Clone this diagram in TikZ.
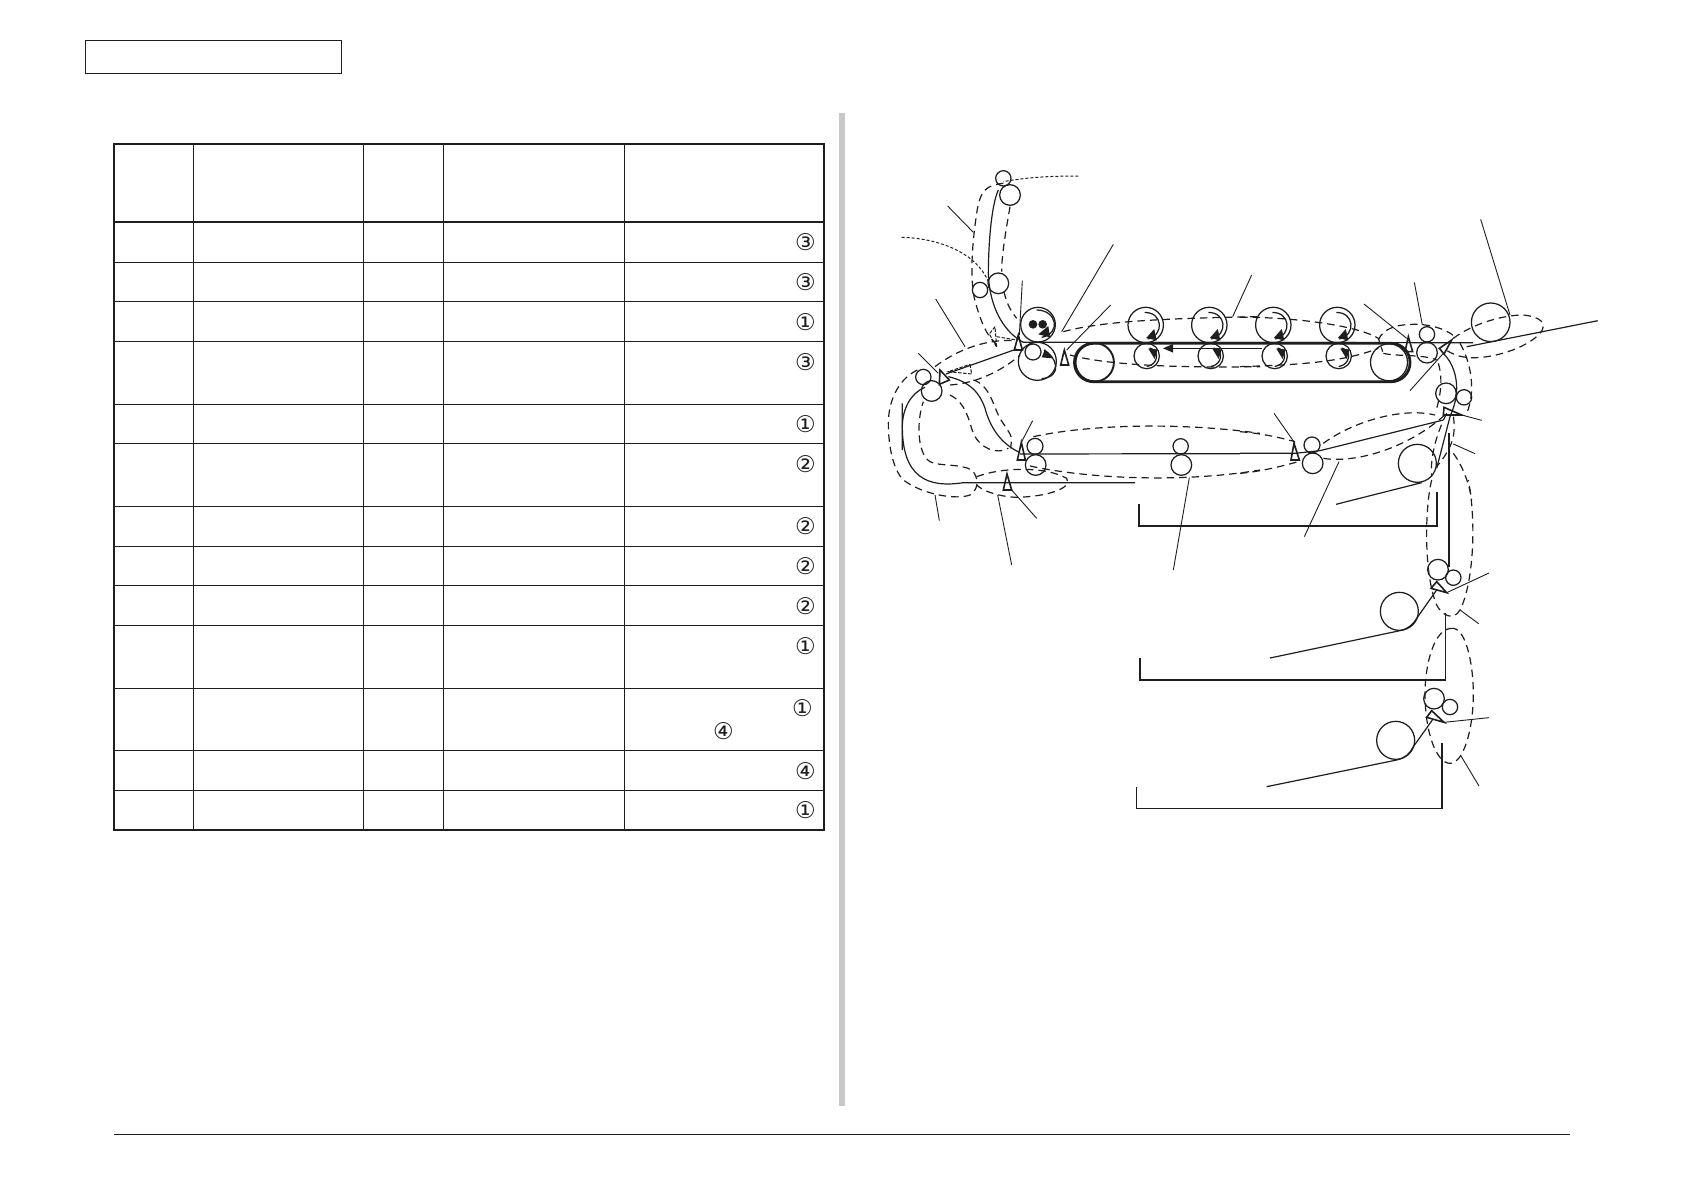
\documentclass[tikz,border=0pt]{standalone}
\usepackage{fontspec}
\newfontfamily\symfont{DejaVu Sans}
\definecolor{ink}{HTML}{1E1E1E}
\definecolor{barc}{HTML}{C8C8C8}
\tikzset{
  z1/.style={shift={(860,150)},scale=0.33333},
  z2/.style={shift={(1240,200)},scale=0.33333},
  z3/.style={shift={(860,380)},scale=0.33333},
  z4/.style={shift={(1240,480)},scale=0.33333},
  roller/.style={draw=ink,line width=1.25pt},
  paper/.style={draw=ink,line width=1.2pt},
  leader/.style={draw=ink,line width=0.9pt},
  loopline/.style={draw=ink,line width=1.2pt,dash pattern=on 7.5pt off 5pt},
  fineloop/.style={draw=ink,line width=1pt,dash pattern=on 3pt off 2pt},
  flagmark/.style={draw=ink,line width=1.6pt},
  sketchmark/.style={draw=ink,line width=1pt,dash pattern=on 3.5pt off 1.5pt},
  tabthick/.style={draw=ink,line width=2pt},
  tabthin/.style={draw=ink,line width=1.1pt},
  digit/.style={font=\symfont\fontsize{23}{23}\selectfont,text=ink,inner sep=0pt}
}
\newcommand{\upperroller}[1]{\begin{scope}[shift={(#1,325)}]
  \draw[roller] (0,0) circle (17.7);
  \draw[roller] (-1,-12.5) .. controls (17,-13) and (19,10) .. (2,14);
  \fill[ink] (8.5,4) -- (0.5,13) -- (11,15.5) -- cycle;
\end{scope}}
\newcommand{\lowerroller}[1]{\begin{scope}[shift={(#1,356)}]
  \draw[roller] (0,0) circle (12.7);
  \draw[roller] (3,-8) .. controls (14,-5) and (11,9) .. (0,10.5);
  \fill[ink] (1.5,-7.5) -- (11,-6.5) -- (8,3) -- cycle;
\end{scope}}
\begin{document}
\begin{tikzpicture}[x=1pt,y=-1pt]
\useasboundingbox[fill=white] (0,0) rectangle (1684,1191);
% header box, bar, footer
\draw[draw=ink,line width=1.1pt] (85.5,40.5) rectangle (341.5,73.5);
\fill[barc] (839,113) rectangle (845,1106);
\draw[draw=ink,line width=0.9pt] (114,1134) -- (1570,1134);
% table
\foreach \yy in {262.3,301.3,341.3,404.3,443.3,506.3,546.3,585.3,625.3,688.3,750.3,790.3}
  \draw[tabthin] (114,\yy) -- (823.5,\yy);
\foreach \xx in {193.6,363.6,443.2,624.6}
  \draw[tabthin] (\xx,143.7) -- (\xx,829.5);
\draw[tabthick] (114,221.7) -- (823.5,221.7);
\draw[tabthick] (114,143.7) rectangle (823.5,830);
% circled digits
\node[digit] (d1) at (805.5,242) {③};
\node[digit] (d2) at (805.5,282) {③};
\node[digit] (d3) at (805.5,321.7) {①};
\node[digit] (d4) at (805.5,361.7) {③};
\node[digit] (d5) at (805.5,424.5) {①};
\node[digit] (d6) at (805.5,463.7) {②};
\node[digit] (d7) at (805.5,526.3) {②};
\node[digit] (d8) at (805.5,566) {②};
\node[digit] (d9) at (805.5,605.7) {②};
\node[digit] (d10) at (805.5,645.7) {①};
\node[digit] (d11) at (802.5,708) {①};
\node[digit] (d12) at (723.5,731.5) {④};
\node[digit] (d13) at (805.5,770.7) {④};
\node[digit] (d14) at (805.5,810.3) {①};
% belt
\draw[draw=ink,line width=2.8pt,rounded corners=19pt] (1074.5,343.3) rectangle (1410,381.7);
\draw[draw=ink,line width=1.9pt] (1094.7,362.3) circle (19.2);
\draw[roller] (1389,362.3) circle (18.5);
\upperroller{1145.7}\upperroller{1209.3}\upperroller{1273.3}\upperroller{1337.3}
\lowerroller{1146.7}\lowerroller{1210.7}\lowerroller{1274.7}\lowerroller{1338.7}
\draw[paper] (1023,342.3) -- (1473,342.7);
\draw[paper] (1172,348.3) -- (1262,348.3);
\fill[ink] (1163,348.3) -- (1173,344) -- (1173,352.6) -- cycle;
\draw[paper] (1466.7,346.7) -- (1597.7,320.7);
\draw[roller] (1490.7,322.3) circle (19.3);
% --- region 1
\begin{scope}[z1]
\foreach \cx/\cy/\rr in {430/85/23,450/135/31,415/400/31,360/420/23,534/524/52,532/634/57,519/606/24,190/681/23,215/723/31}
  \draw[roller] (\cx,\cy) circle (\rr);
\fill[ink] (519,523) circle (13);
\fill[ink] (548,523) circle (13);
\draw[roller] (530,480) .. controls (590,480) and (605,550) .. (545,562);
\fill[ink] (565,528) -- (535,553) -- (570,562) -- cycle;
\draw[roller] (552,600) .. controls (590,620) and (610,680) .. (545,686);
\fill[ink] (555,598) -- (578,625) -- (545,622) -- cycle;
\draw[paper] (415,120) .. controls (392,170) and (385,300) .. (385,370) .. controls (388,470) and (430,545) .. (490,577);
\draw[paper] (258,672) -- (470,597);
\draw[paper] (195,712) .. controls (150,730) and (127,780) .. (127,830) -- (127,900);
\draw[paper] (265,680) .. controls (330,695) and (360,730) .. (375,775) .. controls (390,830) and (420,880) .. (480,908);
\foreach \pts in {{(613,600) -- (602,645) -- (626,645)},{(475,555) -- (463,600) -- (487,600)},{(240,660) -- (238,703) -- (268,690)}}
  \draw[flagmark] \pts -- cycle;
\foreach \pts in {{(405,530) -- (388,552) -- (410,592)},{(330,643) -- (335,672) -- (265,665)}}
  \draw[sketchmark] \pts -- cycle;
\draw[sketchmark] (410,560) -- (470,570);
\foreach \xa/\ya/\xb/\yb in {263/168/340/247,227/447/315/590,175/610/235/670,487/392/478/555,760/283/605/545,752/465/620/600,1175/375/1118/500}
  \draw[leader] (\xa,\ya) -- (\xb,\yb);
\draw[fineloop] (655,78) .. controls (570,78) and (500,82) .. (430,95);
\draw[fineloop] (125,262) .. controls (240,265) and (350,310) .. (385,395);
\draw[loopline] (430,100) .. controls (380,105) and (360,120) .. (350,190) .. controls (338,270) and (325,400) .. (350,470) .. controls (365,520) and (385,570) .. (420,590);
\draw[loopline] (450,170) .. controls (440,230) and (425,310) .. (425,365);
\draw[loopline] (432,425) .. controls (440,460) and (450,480) .. (470,505);
\draw[loopline] (225,650) .. controls (290,600) and (380,565) .. (470,572);
\draw[loopline] (270,705) .. controls (350,700) and (430,660) .. (480,615);
\draw[loopline] (610,545) .. controls (720,515) and (900,505) .. (1200,500);
\draw[loopline] (630,615) .. controls (720,640) and (900,655) .. (1200,650);
\end{scope}
% --- region 2
\begin{scope}[z2]
\foreach \cx/\cy/\rr in {561/403/23,561/458/31,618/580/31,672/592/23,532/790/57,216/735/24,218/790/31}
  \draw[roller] (\cx,\cy) circle (\rr);
\draw[paper] (610,460) .. controls (640,490) and (650,530) .. (650,565) .. controls (650,600) and (640,625) .. (630,650) -- (590,805);
\draw[paper] (0,760) -- (165,760) -- (240,752) -- (610,660);
\draw[paper] (545,848) -- (288,913);
\draw[paper] (627,700) -- (627,900);
\foreach \pts in {{(505,410) -- (495,455) -- (518,455)},{(162,730) -- (153,780) -- (178,780)},{(635,420) -- (598,445) -- (612,462)},{(612,622) -- (610,645) -- (665,645)}}
  \draw[flagmark] \pts -- cycle;
\foreach \xa/\ya/\xb/\yb in {722/58/810/345,523/247/547/375,372/312/500/415,510/572/610/460,102/640/165/730,665/645/725/661,640/732/705/761}
  \draw[leader] (\xa,\ya) -- (\xb,\yb);
\draw[loopline] (0,352) .. controls (120,350) and (340,370) .. (415,415) -- (428,455);
\draw[loopline] (0,500) .. controls (150,495) and (300,490) .. (415,445);
\draw[loopline] (415,420) .. controls (430,385) and (470,372) .. (530,373) .. controls (590,375) and (630,395) .. (650,415);
\draw[loopline] (430,460) .. controls (470,470) and (550,462) .. (590,480);
\draw[loopline] (640,415) .. controls (700,370) and (790,345) .. (850,345) .. controls (900,350) and (925,370) .. (900,400) .. controls (860,445) and (750,480) .. (680,472) .. controls (650,470) and (625,455) .. (610,445);
\draw[loopline] (595,490) .. controls (610,540) and (600,590) .. (590,625);
\draw[loopline] (660,430) .. controls (690,480) and (710,570) .. (680,640);
\draw[loopline] (0,695) .. controls (60,700) and (110,710) .. (165,725);
\draw[loopline] (0,820) .. controls (60,815) and (120,800) .. (175,785);
\draw[loopline] (250,730) .. controls (330,670) and (480,620) .. (585,645);
\draw[loopline] (250,775) .. controls (340,790) and (500,750) .. (620,640);
\draw[loopline] (620,640) .. controls (585,710) and (570,780) .. (575,830);
\draw[loopline] (640,650) .. controls (648,700) and (640,740) .. (590,800);
\draw[loopline] (640,760) .. controls (670,800) and (690,860) .. (695,900);
\end{scope}
% --- region 3
\begin{scope}[z3]
\foreach \cx/\cy/\rr in {525/199/24,527/255/31,962/199/23,964/255/31}
  \draw[roller] (\cx,\cy) circle (\rr);
\draw[paper] (825,308) -- (310,308) .. controls (200,325) and (127,290) .. (127,140) -- (127,70);
\draw[paper] (480,222) -- (1140,221);
\draw[paper] (837,372) -- (837,438) -- (1200,438);
\foreach \pts in {{(441,282) -- (430,330) -- (455,330)},{(484,187) -- (472,240) -- (496,240)}}
  \draw[flagmark] \pts -- cycle;
\foreach \xa/\ya/\xb/\yb in {518/122/485/185,225/345/238/422,413/345/455/555,455/330/530/415,988/293/940/570}
  \draw[leader] (\xa,\ya) -- (\xb,\yb);
\draw[loopline] (520,170) .. controls (680,135) and (950,125) .. (1200,160);
\draw[loopline] (510,258) .. controls (680,295) and (960,310) .. (1200,270);
\draw[loopline] (172,-30) .. controls (110,0) and (85,70) .. (85,130) .. controls (85,200) and (100,270) .. (130,300) .. controls (190,345) and (290,360) .. (330,345) .. controls (360,325) and (355,290) .. (335,270) .. controls (300,250) and (240,260) .. (210,245) .. controls (170,220) and (170,120) .. (190,65);
\draw[loopline] (270,45) .. controls (320,70) and (325,120) .. (340,160) .. controls (360,205) and (410,225) .. (445,205);
\draw[loopline] (340,0) .. controls (390,15) and (400,80) .. (420,115) .. controls (435,140) and (452,160) .. (455,175) -- (452,205);
\draw[loopline] (350,290) .. controls (430,260) and (560,260) .. (620,295) .. controls (640,325) and (560,350) .. (470,352) .. controls (420,350) and (370,335) .. (350,315);
\end{scope}
% --- region 4
\begin{scope}[z4]
\foreach \cx/\cy/\rr in {594/269/31,640/293/23,478/394/57,582/656/31,630/681/23,467/781/57}
  \draw[roller] (\cx,\cy) circle (\rr);
\draw[paper] (627,0) -- (627,260);
\draw[paper] (591,35) -- (591,138) -- (-100,138);
\draw[paper] (90,534) -- (480,452) .. controls (505,447) and (520,432) .. (530,415) -- (590,330);
\draw[paper] (80,920) -- (470,840) .. controls (495,835) and (510,820) .. (518,803) -- (577,720);
\draw[paper] (617,400) -- (617,600) -- (-300,600) -- (-300,534);
\draw[paper] (606,790) -- (606,986) -- (-310,986) -- (-310,920);
\draw[flagmark] (573,325) -- (590,305) -- (620,338) -- cycle;
\draw[flagmark] (560,712) -- (575,692) -- (612,727) -- cycle;
\draw[leader] (297,-55) -- (193,170);
\draw[leader] (620,338) -- (747,279);
\draw[leader] (612,727) -- (747,713);
\draw[leader] (660,390) -- (716,431);
\draw[leader] (663,828) -- (717,918);
\draw[loopline] (575,0) .. controls (555,80) and (550,280) .. (590,375) .. controls (605,405) and (640,425) .. (660,390) .. controls (700,310) and (710,130) .. (685,0);
\draw[loopline] (640,445) .. controls (580,440) and (555,560) .. (555,640) .. controls (555,760) and (590,850) .. (630,850) .. controls (670,850) and (700,750) .. (700,640) .. controls (700,560) and (680,450) .. (640,445);
\end{scope}
\end{tikzpicture}
\end{document}
